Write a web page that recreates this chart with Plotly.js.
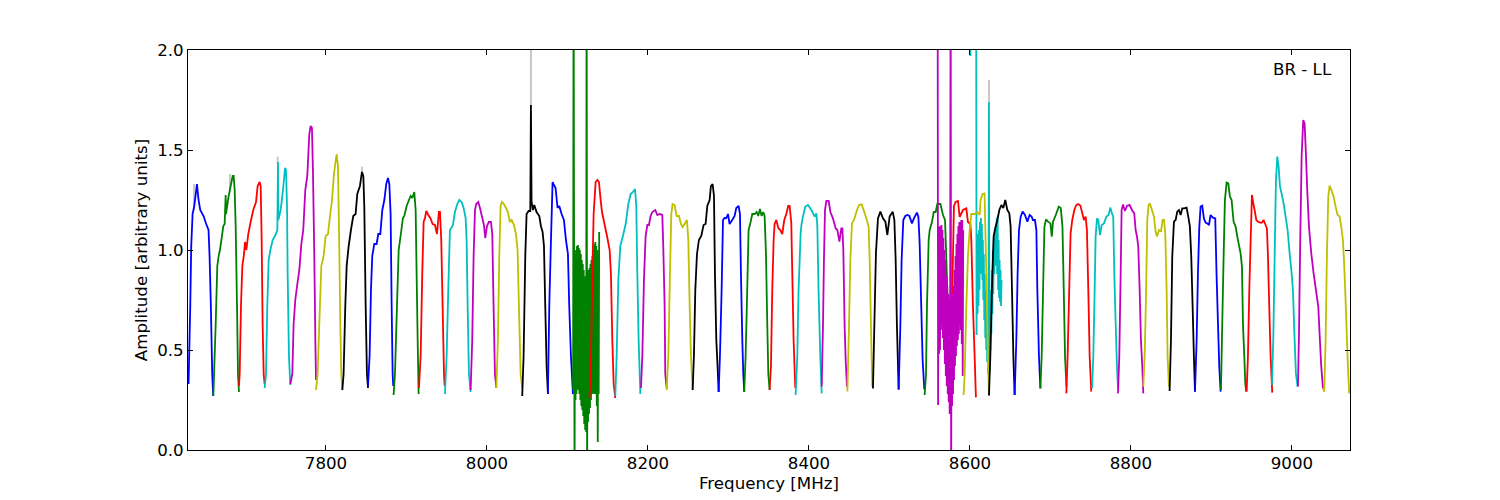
<!DOCTYPE html>
<html><head><meta charset="utf-8"><script src="https://cdn.plot.ly/plotly-3.0.1.min.js"></script>
<style>html,body{margin:0;padding:0;background:#fff}</style></head><body><div id="c" style="width:1500px;height:500px"></div>
<script>
const xTicks=[7800,8000,8200,8400,8600,8800,9000];
const yTicks=[0,0.5,1,1.5,2];
const yLabels=['0.0','0.5','1.0','1.5','2.0'];
const cBlue='#0000ff',cGreen='#008000',cRed='#ff0000',cCyan='#00bfbf',cMag='#bf00bf',cYel='#bfbf00',cBlack='#000000';
const greyF=[7636,7636,null,7680.8,7680.8,null,7740,7740,null,7844.7,7844.7,null,8054.6,8054.6,null,8623.6,8623.6];
const greyA=[1.2,1.33,null,1.3,1.38,null,1.43,1.467,null,1.38,1.417,null,1.72,2.6,null,1.74,1.85];

const f01=[7629.3,7631.4,7632.6,7634.3,7636.4,7639.7,7641.7,7643.8,7647.9,7651.2,7654.1,7655.4,7657,7658.7,7659.9];
const a01=[.33,.72,1.02,1.18,1.22,1.33,1.25,1.2,1.17,1.13,1.10,.97,.72,.38,.27];
const f02=[7660.1,7661.3,7663,7665,7666.7,7668.3,7670.8,7672.5,7674.1,7675.4,7675.8,7678.7,7681.6,7684.1,7685.3,7686.6,7687.8,7689.5,7690.7,7691.9];
const a02=[.27,.42,.63,.92,.97,1.0,1.07,1.12,1.13,1.275,1.18,1.26,1.32,1.37,1.37,1.30,1.12,.72,.38,.29];
const f03=[7691.9,7692.8,7694.4,7696.1,7698.2,7699.4,7701.1,7703.5,7706.4,7709.7,7713.1,7715.1,7717.6,7718.9,7720.1,7721.3,7722.6,7723.8];
const a03=[.32,.38,.72,.92,.98,1.04,1.0,1.08,1.14,1.2,1.24,1.32,1.34,1.32,1.05,.63,.38,.33];
const f04=[7723.8,7725.5,7727.1,7728.8,7730.9,7733.8,7736.7,7739.6,7740.4,7740.8,7743.7,7746.6,7749.1,7750.3,7751.6,7752.4,7754,7755.7];
const a04=[.31,.38,.72,.95,1.0,1.05,1.07,1.10,1.44,1.15,1.2,1.3,1.41,1.40,1.22,.88,.47,.325];
const f05=[7755.7,7758.2,7759.8,7761.9,7764.4,7766.9,7769.4,7771.8,7774.3,7776.8,7779.3,7781,7782.6,7783.9,7785.5,7786.8,7787.6];
const a05=[.33,.38,.63,.75,.83,.90,1.03,1.10,1.30,1.37,1.58,1.62,1.61,1.38,.97,.55,.35];
const f06=[7787.6,7789.6,7791.7,7794.2,7797.1,7799.6,7802.5,7805,7807.5,7809.9,7813.2,7814.9,7816.1,7817.8,7819,7820.3];
const a06=[.30,.38,.63,.92,.97,1.07,1.08,1.17,1.25,1.38,1.48,1.42,1.13,.63,.38,.30];
const f07=[7820.3,7821.9,7824,7825.7,7828.2,7831,7833.9,7836.8,7838.9,7842.2,7844.7,7846.4,7847.6,7849.3,7850.9,7852.2];
const a07=[.30,.38,.72,.92,1.02,1.10,1.17,1.18,1.28,1.32,1.39,1.37,1.22,.72,.38,.31];
const f08=[7852.2,7854.2,7855.9,7857.5,7860,7862.9,7865,7867.5,7870,7872.5,7874.9,7877,7878.7,7880.3,7881.6,7882.8,7883.6];
const a08=[.32,.47,.80,.97,1.03,1.03,1.08,1.08,1.20,1.25,1.33,1.36,1.33,1.18,.72,.38,.32];
const f09=[7884,7885.7,7888.2,7890.3,7892.7,7895.6,7897.3,7900.2,7903.1,7905.2,7907.2,7909.7,7911.4,7912.6,7913.9,7915.1];
const a09=[.275,.38,.72,1.0,1.07,1.16,1.17,1.22,1.25,1.27,1.26,1.29,1.20,.88,.55,.28];
const f10=[7915.5,7917.6,7919.6,7921.3,7923,7924.6,7927.1,7929.6,7932.5,7935.4,7937.9,7940.3,7941.6,7943.2,7944.9,7946.6,7947.4];
const a10=[.31,.47,.88,1.14,1.16,1.195,1.175,1.16,1.13,1.125,1.08,1.19,1.19,1.05,.72,.38,.32];
const f11=[7947.8,7949.9,7951.9,7954,7955.7,7957.7,7960.2,7963.1,7965.6,7968.5,7971,7973.5,7974.7,7976,7977.6,7979.7];
const a11=[.28,.47,.80,1.10,1.11,1.125,1.19,1.23,1.25,1.24,1.21,1.16,1.05,.72,.38,.29];
const f12=[7979.7,7981.7,7983.4,7985.1,7986.7,7989.2,7991.3,7994.2,7996.2,7997.9,8000,8002.4,8004.9,8006.6,8008.2,8009.9,8011.6];
const a12=[.30,.55,.97,1.2,1.23,1.24,1.21,1.16,1.125,1.06,1.12,1.14,1.14,1.08,.72,.38,.31];
const f13=[8011.6,8013.6,8015.3,8016.9,8018.6,8021.1,8023.6,8026,8028.5,8030.6,8033.5,8036,8038,8039.7,8041.8,8043.8];
const a13=[.31,.55,.97,1.22,1.24,1.23,1.21,1.19,1.14,1.15,1.125,1.08,1.0,.72,.38,.31];
const f14=[8043.8,8045.5,8047.6,8049.2,8051.7,8053.8,8054.6,8055.4,8057.1,8058.8,8061.6,8065,8067,8069.1,8070.8,8072.4,8074.1,8075.7];
const a14=[.27,.47,.97,1.18,1.195,1.195,1.725,1.24,1.20,1.225,1.19,1.17,1.12,1.09,1.02,.72,.42,.28];
const f15=[8075.7,8077.4,8079.5,8081.5,8083.2,8085.2,8087.7,8089.8,8092.7,8095.6,8098.1,8100.6,8102.2,8104.3,8106.8];
const a15=[.28,.72,1.05,1.34,1.325,1.31,1.21,1.22,1.18,1.15,1.05,.98,.72,.47,.28];
const f16=[8107,8107.6,8108.2,8108.8,8109.4,8110,8110.6,8111.2,8111.8,8112.4,8113,8113.6,8114.2,8114.8,8115.4,8116,8116.6,8117.2,8117.8,8118.4,8119,8119.6,8120.2,8120.8,8121.4,8122,8122.6,8123.2,8123.8,8124.4,8125,8125.6,8126.2,8126.8,8127.4,8128,8128.6,8129.2,8129.8,8130.4,8131,8131.6,8132.2,8132.8,8133.4,8134,8134.6,8135.2,8135.8,8136.4,8137,8137.6,8138.2,8138.8,8139.4];
const a16=[.30,2.6,1.0,-.2,.98,.25,1.0,.28,1.02,.31,1.025,.30,1.01,.28,1.0,.25,.98,.22,.95,.20,.93,.17,.90,.13,.86,.10,.87,.09,2.6,-.2,.88,.14,.90,.18,.91,.21,.93,.25,.95,.28,.97,.28,1.0,.29,1.03,.28,1.04,.28,1.02,.22,1.0,.04,.9,.28,1.09];
const f17=[8127.5,8129.2,8130.9,8132.5,8135,8137.1,8139.1,8141.2,8142.9,8146.2,8149.1,8152.4,8154,8155.7,8157.4,8159.4];
const a17=[.26,.47,.88,1.18,1.34,1.35,1.34,1.25,1.19,1.125,1.07,1.0,.88,.55,.33,.26];
const f18=[8159.4,8161.1,8163.2,8165.6,8168.9,8172.3,8175.6,8178.5,8181.4,8183.9,8185.5,8186.8,8188.4,8190.5];
const a18=[.27,.47,.85,1.02,1.07,1.13,1.23,1.28,1.29,1.305,1.22,.88,.55,.28];
const f19=[8191.3,8193,8195,8197.1,8199.2,8201.2,8203.3,8205.4,8209.1,8211.6,8214.5,8217.8,8219,8220.7,8221.5,8223.2];
const a19=[.31,.47,.85,1.07,1.125,1.125,1.17,1.19,1.2,1.175,1.18,1.175,1.02,.72,.38,.31];
const f20=[8223.2,8225.3,8227.3,8229,8230.6,8233.1,8235.6,8238.5,8241,8243.1,8245.5,8248.4,8250.1,8251.8,8253.4,8255.5];
const a20=[.30,.47,.88,1.18,1.23,1.225,1.17,1.17,1.13,1.115,1.13,1.15,1.05,.72,.47,.30];
const f21=[8255.5,8257.1,8258.8,8260.9,8263.3,8266.2,8269.1,8271.6,8273.7,8276.6,8278.2,8280.3,8282,8283.2,8284.9,8286.9,8287.8];
const a21=[.30,.47,.80,.98,1.05,1.07,1.125,1.13,1.22,1.25,1.32,1.33,1.27,.88,.55,.38,.29];
const f22=[8287.8,8289.4,8291.5,8293.2,8295.2,8297.3,8299.4,8301.4,8304.7,8307.6,8309.7,8312.6,8314.3,8315.5,8317.2,8318.4,8319.6];
const a22=[.29,.47,.80,1.15,1.16,1.16,1.18,1.13,1.15,1.17,1.21,1.22,1.18,.88,.55,.38,.29];
const f23=[8319.6,8321.3,8323,8325,8327.5,8329.6,8332.5,8335,8337,8339.1,8341.2,8343.2,8344.9,8346.6,8348.2,8349.5,8351.1];
const a23=[.29,.47,.75,1.10,1.14,1.18,1.18,1.19,1.17,1.205,1.17,1.19,1.17,.98,.63,.38,.30];
const f24=[8351.1,8352.8,8354.4,8356.1,8357.3,8359.4,8361.9,8364.4,8366.8,8369.3,8371.8,8374.3,8375.9,8378,8379.3,8380.9,8383];
const a24=[.30,.42,.80,1.05,1.13,1.15,1.11,1.10,1.08,1.15,1.18,1.22,1.22,1.14,.88,.55,.31];
const f25=[8383.4,8385.5,8387.1,8389.6,8390.6,8392.5,8395.5,8398.8,8403,8407.1,8409.2,8410.4,8412,8414.2,8415.8];
const a25=[.275,.47,.80,1.08,1.125,1.167,1.217,1.225,1.2,1.167,1.183,1.117,.783,.45,.283];
const f26=[8415.8,8417.4,8418.6,8419.9,8421.6,8424.5,8426.6,8429.8,8433.2,8435.3,8437.8,8440.2,8441.5,8442.7,8444.3,8445.6,8447.2];
const a26=[.317,.617,.95,1.2,1.245,1.245,1.19,1.158,1.108,1.1,1.042,1.108,1.108,1.0,.617,.45,.317];
const f27=[8447.7,8449.7,8451.4,8453.4,8455.9,8458.9,8462.1,8465.5,8467.9,8471.3,8474.1,8475.4,8477,8478.7];
const a27=[.292,.617,.95,1.133,1.15,1.19,1.225,1.228,1.2,1.158,1.117,.95,.617,.317];
const f28=[8479.5,8481.2,8483.2,8485.7,8488.7,8491.9,8494.9,8497.4,8500.2,8504,8506.1,8507.7,8509.3,8511.4];
const a28=[.308,.617,.983,1.158,1.192,1.158,1.142,1.075,1.167,1.192,1.15,.95,.617,.303];
const f29=[8511.4,8513.5,8515.1,8517.2,8519.7,8522.2,8524.7,8527.9,8530.4,8534.1,8535.9,8537.5,8539.6,8541.2,8543.3];
const a29=[.303,.617,.95,1.15,1.17,1.175,1.17,1.133,1.158,1.187,1.167,1.033,.7,.45,.303];
const f30=[8543.7,8545.4,8546.6,8548.7,8550,8552.8,8555,8557.4,8559.5,8563.3,8566.5,8569,8570.7,8572.4];
const a30=[.275,.38,.72,1.05,1.10,1.14,1.19,1.19,1.23,1.23,1.175,1.15,.95,.73];
const f31=[8577.6,8578.9,8580.1,8582.2,8585.1,8587.2,8591.3,8595.5,8597.5,8600.5,8601.7,8603.7,8605.8,8607.4];
const a31=[.72,.97,1.22,1.24,1.245,1.165,1.2,1.208,1.14,1.13,1.05,.72,.47,.263];
const f32=[8600.4,8600.6,8600.8,null,8607.6,8608.2,8608.8,8609.4,8610,8610.6,8611.2,8611.8,8612.4,8613,8613.6,8614.2,8614.8,8615.4,8616,8616.6,8617.2,8617.8,8618.4,8619,8619.6,8620.2,8620.8,8621.4,8622,8622.6,8623.2,8623.6,8624.2,8624.8,8625.4,8626,8626.6,8627.2,8627.8,8628.4,8629,8629.6,8630.2,8630.8,8631.4,8632,8632.6,8633.2,8633.8,8634.4,8635,8635.6,8636.2,8636.8,8637.4,8638,8638.6,8639.2];
const a32=[2.6,1.97,2.6,null,2.6,.575,1.05,.68,1.08,.72,1.10,.8,1.14,.88,1.16,.95,1.13,.85,1.05,.75,.98,.65,.88,.56,.80,.50,.70,.44,.60,.38,1.0,1.74,.38,.65,.50,.8,.58,.9,.68,1.0,.78,1.05,.88,1.08,.92,1.12,.95,1.16,.88,1.17,.8,1.05,.76,.95,.74,.9,.72,.85];
const f33=[8559.8,8560.4,8561,8561.6,8562.2,8562.8,8563.4,8564,8564.6,8565.2,8565.8,8566.4,8567,8567.6,8568.2,8568.8,8569.4,8570,8570.6,8571.2,8571.8,8572.4,8573,8573.6,8574.2,8574.8,8575.4,8576,8576.6,8577.2,8577.8,8578.4,8579,8579.6,8580.2,8580.8,8581.4,8582,8582.6,8583.2,8583.8,8584.4,8585,8585.6,8586.2,8586.8,8587.4,8588,8588.6,8589.2,8589.8,8590.4,8591,8591.6];
const a33=[2.6,.225,1.08,.48,1.117,.50,1.12,.60,1.125,.63,1.10,.56,1.06,.50,1.0,.43,.95,.37,.87,.32,.82,.28,.78,.24,.76,.18,.75,2.6,-.2,.74,.22,.78,.28,.82,.35,.90,.42,.97,.47,1.03,.52,1.08,.55,1.12,.58,1.14,.63,1.14,.60,1.15,.53,1.15,.37,1.10];
const f34=[8592.1,8593.4,8595.5,8597.5,8599.6,8601.7,8605.8,8609.1,8612,8613.2,8615.7,8618.1,8619.4,8621.1,8622.3,8623.6];
const a34=[.275,.38,.72,.97,1.10,1.18,1.18,1.19,1.175,1.25,1.28,1.283,1.05,.72,.47,.275];
const f35=[8623.6,8625.3,8627.3,8629.4,8631.5,8634,8636.5,8639,8641.4,8643.9,8646.4,8648.9,8650.5,8652.2,8653.9,8655.5];
const a35=[.272,.47,.80,1.07,1.11,1.15,1.2,1.225,1.21,1.25,1.2,1.183,1.117,.80,.47,.275];
const f36=[8655.5,8657.6,8659.2,8660.9,8663,8665.4,8668.3,8671.3,8674.1,8676.6,8678.3,8680.7,8682.5,8683.7,8685.7,8687.5];
const a36=[.275,.55,.883,1.10,1.167,1.192,1.175,1.142,1.175,1.167,1.15,1.15,1.10,.80,.47,.308];
const f37=[8687.5,8689.1,8690.8,8692.5,8694.5,8697,8700,8701.6,8703.2,8706.6,8710.3,8712.8,8714.9,8716.5,8718.1,8719.9];
const a37=[.308,.47,.80,1.117,1.153,1.142,1.133,1.067,1.142,1.175,1.217,1.21,1.117,.80,.467,.317];
const f38=[8719.7,8721.3,8723,8725,8727.1,8729.6,8732.1,8734.2,8737.1,8739.6,8741.6,8743.7,8745.3,8747,8748.7,8750.7];
const a38=[.283,.467,.75,1.083,1.15,1.2,1.225,1.23,1.222,1.183,1.15,1.167,1.1,.80,.467,.292];
const f39=[8751.6,8753.2,8754.9,8756.1,8757.8,8759.4,8761.5,8763.6,8766.5,8769.4,8772.3,8774.3,8776.4,8778,8779.3,8781,8782.6,8783.9];
const a39=[.308,.467,.80,1.067,1.158,1.15,1.075,1.125,1.133,1.167,1.175,1.212,1.183,1.167,.883,.633,.417,.308];
const f40=[8783.9,8785.5,8787.2,8788.4,8790.1,8792.5,8795,8798.3,8801.2,8804.1,8805.8,8807.5,8809.1,8810.8,8812.4,8814.1,8815.3];
const a40=[.283,.467,.883,1.2,1.228,1.195,1.22,1.225,1.2,1.183,1.1,1.067,1.017,.80,.55,.417,.283];
const f41=[8815.3,8817,8818.6,8820.3,8821.9,8823.6,8826.1,8828.6,8830.6,8832.3,8834.8,8837.3,8839.3,8841,8842.6,8844.3,8845.5,8847.2];
const a41=[.317,.467,.75,1.15,1.225,1.233,1.2,1.167,1.092,1.067,1.1,1.092,1.15,1.15,1.083,.80,.467,.317];
const f42=[8848,8849.7,8851.3,8853.4,8855.5,8857.5,8859.6,8861.7,8863.8,8866.2,8869.1,8871.2,8873.2,8874.9,8876.6,8878.2,8879.5];
const a42=[.295,.55,.967,1.142,1.15,1.192,1.2,1.175,1.208,1.208,1.212,1.167,1.117,.967,.717,.467,.292];
const f43=[8879.5,8881.6,8883.2,8884.9,8886.5,8888.6,8890.6,8892.7,8894.8,8896.9,8898.9,8901.8,8904.7,8906.3,8908.1,8909.7,8911.4];
const a43=[.292,.55,.883,1.117,1.217,1.222,1.158,1.137,1.133,1.125,1.175,1.162,1.158,.883,.633,.417,.292];
const f44=[8911.8,8913.4,8915.1,8916.7,8918.8,8920.9,8922.9,8925,8927.5,8930,8932.1,8934.1,8936.2,8937.9,8939.1,8940.8,8942,8943.2];
const a44=[.30,.633,.967,1.25,1.337,1.333,1.267,1.25,1.142,1.117,1.067,1.025,.983,.917,.633,.467,.333,.292];
const f45=[8943.7,8945.3,8947,8948.7,8950.3,8952,8953.6,8955.7,8957.7,8960.2,8962.7,8964.8,8967.2,8968.9,8970.2,8971.8,8973.5,8975.5];
const a45=[.292,.467,.80,1.05,1.275,1.233,1.2,1.15,1.142,1.137,1.137,1.15,1.125,1.108,.967,.717,.467,.287];
const f46=[8975.1,8976.8,8978.5,8980.1,8981.8,8983.4,8985.1,8987.1,8989.6,8992.1,8994.6,8997.1,8999.6,9001.2,9003.3,9004.9,9007];
const a46=[.325,.55,.967,1.35,1.467,1.417,1.317,1.283,1.233,1.167,1.1,.983,.883,.80,.55,.383,.317];
const f47=[9007.4,9008.6,9010.3,9012,9014,9015.7,9017.3,9019,9021.1,9024,9026.9,9029.8,9032.7,9034.7,9036.4,9038.5];
const a47=[.317,.55,1.05,1.467,1.65,1.633,1.483,1.3,1.117,.983,.883,.80,.717,.55,.417,.308];
const f48=[9038.5,9040.1,9041.8,9043.4,9045.1,9046.8,9049.2,9051.7,9054.2,9056.7,9059.2,9061.2,9063.3,9065,9066.6,9068.3,9069.9,9071.2];
const a48=[.308,.292,.55,.967,1.267,1.322,1.297,1.267,1.217,1.175,1.167,1.117,1.05,.917,.75,.55,.383,.283];

const series=[[f01,a01,cBlue],[f02,a02,cGreen],[f03,a03,cRed],[f04,a04,cCyan],[f05,a05,cMag],[f06,a06,cYel],[f07,a07,cBlack],
[f08,a08,cBlue],[f09,a09,cGreen],[f10,a10,cRed],[f11,a11,cCyan],[f12,a12,cMag],[f13,a13,cYel],[f14,a14,cBlack],
[f15,a15,cBlue],[f16,a16,cGreen],[f17,a17,cRed],[f18,a18,cCyan],[f19,a19,cMag],[f20,a20,cYel],[f21,a21,cBlack],
[f22,a22,cBlue],[f23,a23,cGreen],[f24,a24,cRed],[f25,a25,cCyan],[f26,a26,cMag],[f27,a27,cYel],[f28,a28,cBlack],
[f29,a29,cBlue],[f30,a30,cGreen],[f31,a31,cRed],[f32,a32,cCyan],[f33,a33,cMag],[f34,a34,cYel],[f35,a35,cBlack],
[f36,a36,cBlue],[f37,a37,cGreen],[f38,a38,cRed],[f39,a39,cCyan],[f40,a40,cMag],[f41,a41,cYel],[f42,a42,cBlack],
[f43,a43,cBlue],[f44,a44,cGreen],[f45,a45,cRed],[f46,a46,cCyan],[f47,a47,cMag],[f48,a48,cYel]];

const traces=[{x:greyF,y:greyA,mode:'lines',line:{color:'#c8c8c8',width:2},hoverinfo:'skip'}];
for(const [f,a,col] of series) traces.push({x:f,y:a,mode:'lines',line:{color:col,width:1.8,simplify:false},hoverinfo:'skip'});
const font='"DejaVu Sans",sans-serif';
const fs=16.67;
const axisBase={showgrid:false,zeroline:false,showline:true,linecolor:'#000',linewidth:1,mirror:'ticks',ticks:'inside',ticklen:5,tickcolor:'#000',tickwidth:1,tickfont:{family:font,size:fs,color:'#000'}};
const layout={width:1500,height:500,paper_bgcolor:'#fff',plot_bgcolor:'#fff',showlegend:false,margin:{l:188,r:150,t:50,b:50},
 xaxis:Object.assign({},axisBase,{range:[7628.6,9072.1],tickmode:'array',tickvals:xTicks,ticktext:xTicks.map(String),ticklabelstandoff:-2,title:{text:'Frequency [MHz]',font:{family:font,size:fs,color:'#000'},standoff:5}}),
 yaxis:Object.assign({},axisBase,{range:[0,2],tickmode:'array',tickvals:yTicks,ticktext:yLabels,title:{text:'Amplitude [arbitrary units]',font:{family:font,size:fs,color:'#000'},standoff:5}}),
 annotations:[{xref:'paper',yref:'paper',x:0.9862,y:0.9525,xanchor:'right',yanchor:'middle',text:'BR - LL',showarrow:false,font:{family:font,size:fs,color:'#000'}}]};
Plotly.newPlot('c',traces,layout,{displayModeBar:false,staticPlot:true});
</script></body></html>
